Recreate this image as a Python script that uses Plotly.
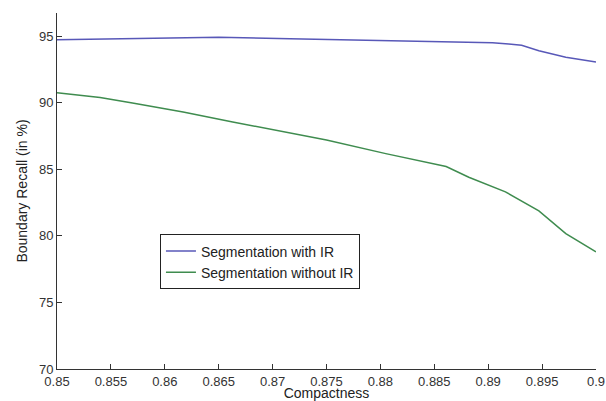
import plotly.graph_objects as go

# Data
x_with = [0.85, 0.856, 0.865, 0.8716, 0.8845, 0.8904, 0.8919, 0.8931, 0.8947, 0.8972, 0.9]
y_with = [94.73, 94.78, 94.9, 94.8, 94.63, 94.5, 94.4, 94.3, 93.9, 93.4, 93.05]

x_without = [0.85, 0.854, 0.857, 0.8617, 0.8663, 0.8709, 0.875, 0.8805, 0.8861, 0.8882, 0.8916, 0.8947, 0.8972, 0.9]
y_without = [90.75, 90.38, 89.97, 89.3, 88.55, 87.85, 87.2, 86.17, 85.2, 84.4, 83.3, 81.87, 80.17, 78.8]

x_tickvals = [0.85, 0.855, 0.86, 0.865, 0.87, 0.875, 0.88, 0.885, 0.89, 0.895, 0.9]
x_ticktext = ["0.85", "0.855", "0.86", "0.865", "0.87", "0.875", "0.88", "0.885", "0.89", "0.895", "0.9"]
y_tickvals = [70, 75, 80, 85, 90, 95]

fig = go.Figure()
fig.add_trace(go.Scatter(x=x_with, y=y_with, mode="lines", name="Segmentation with IR",
                         line=dict(color="#5858b8", width=1.5)))
fig.add_trace(go.Scatter(x=x_without, y=y_without, mode="lines", name="Segmentation without IR",
                         line=dict(color="#3f8c4f", width=1.5)))

fam = "Liberation Sans, Arial, sans-serif"
tick_font = dict(family=fam, size=13, color="#333333")
title_font = dict(family=fam, size=14, color="#222222")
fig.update_layout(
    width=606, height=401,
    margin=dict(l=57, r=10, t=13, b=32, autoexpand=False),
    paper_bgcolor="white", plot_bgcolor="white",
    font=tick_font,
    showlegend=True,
    legend=dict(x=0.191, y=0.378, xanchor="left", yanchor="top",
                bordercolor="#222222", borderwidth=1, bgcolor="white",
                font=dict(family=fam, size=14, color="#222222"),
                tracegroupgap=0, itemwidth=30),
    xaxis=dict(range=[0.85, 0.9], tickvals=x_tickvals, ticktext=x_ticktext,
               ticks="inside", ticklen=5, tickcolor="#333333",
               showline=True, linecolor="#333333", linewidth=1,
               showgrid=False, zeroline=False, automargin=False,
               tickfont=tick_font,
               title=dict(text="Compactness", standoff=0, font=title_font)),
    yaxis=dict(range=[70, 96.73], tickvals=y_tickvals,
               ticks="inside", ticklen=5, tickcolor="#333333",
               showline=True, linecolor="#333333", linewidth=1,
               showgrid=False, zeroline=False, automargin=False,
               tickfont=tick_font,
               title=dict(text="Boundary Recall (in %)", standoff=8, font=title_font)),
)

fig.write_html("out.html")
